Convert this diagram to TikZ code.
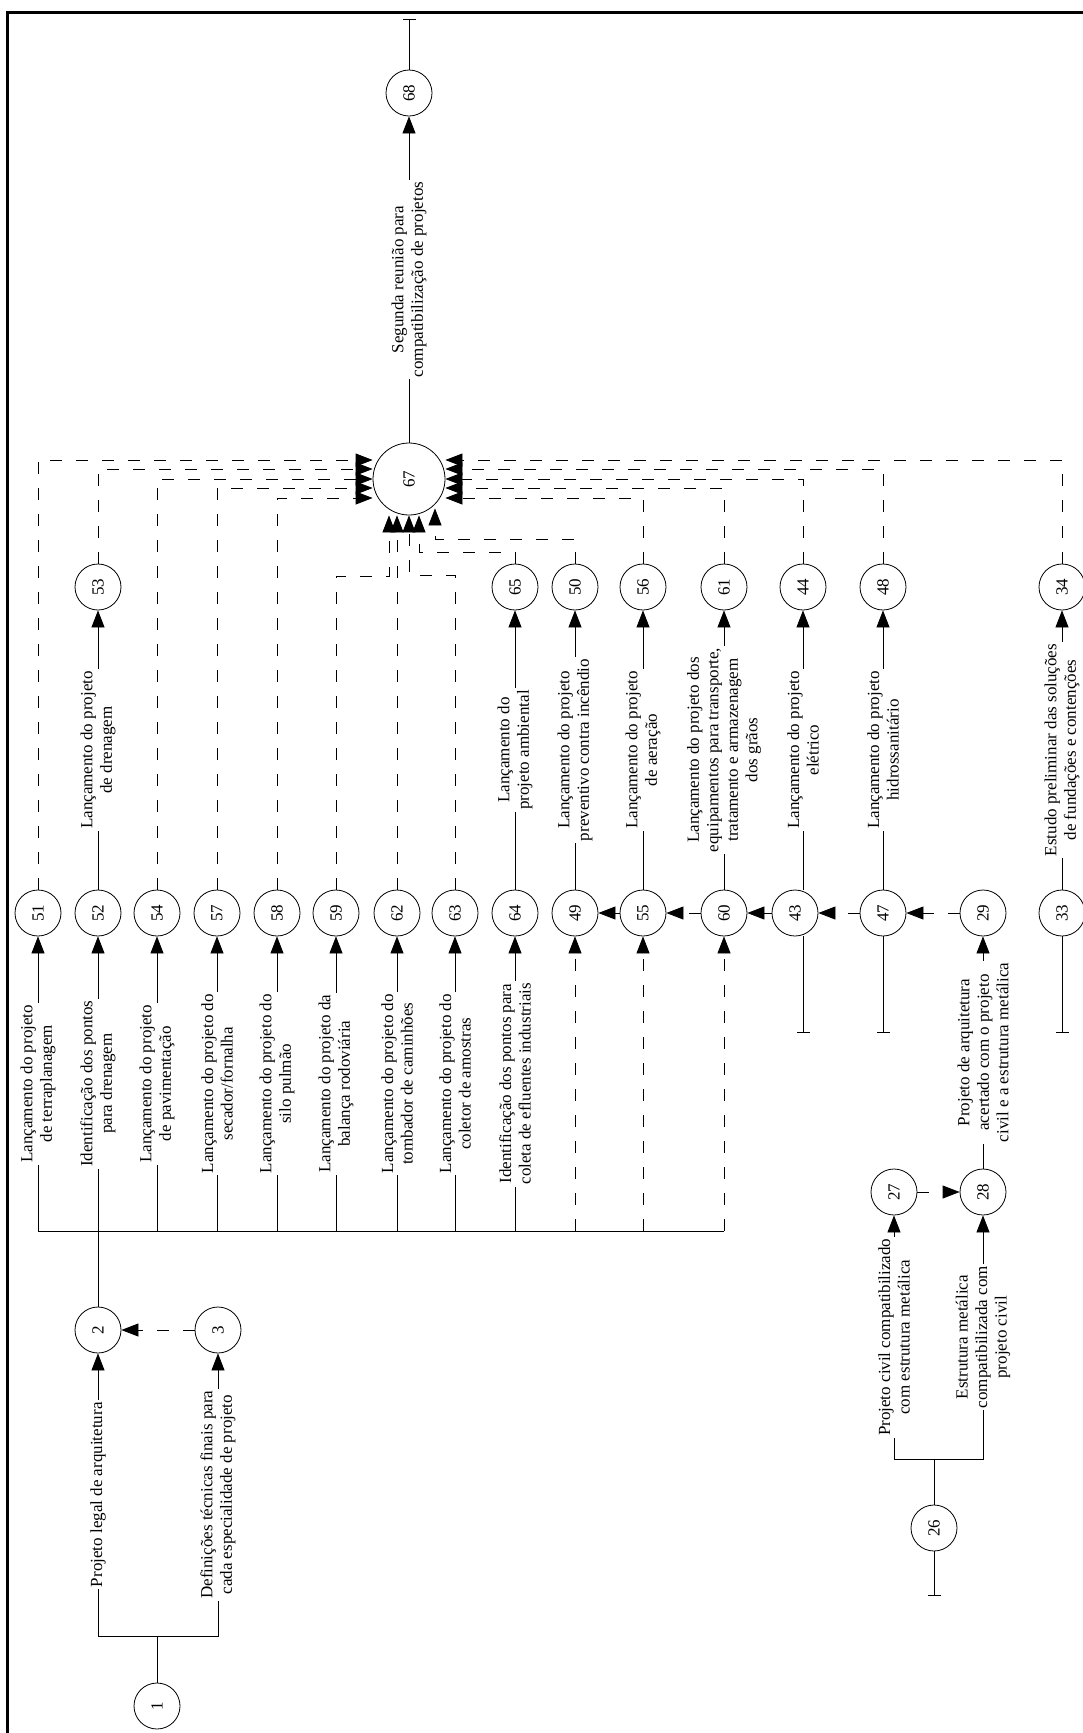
\documentclass[tikz,border=0pt]{standalone}
\usepackage{graphicx}
\usepackage{fontspec}
\setmainfont{Liberation Serif}
\usetikzlibrary{arrows.meta, calc}

\tikzset{
  ev/.style={circle, draw, line width=0.8pt, minimum size=46pt, inner sep=0pt},
  act/.style={line width=0.8pt, -{Triangle[length=17pt, width=13pt]}},
  dum/.style={act, dash pattern=on 12pt off 14pt},
  lbl/.style={midway, fill=white, rotate=90, align=center, inner sep=2pt},
  endbar/.style={line width=0.8pt, -{Bar[width=13pt]}}
}

\begin{document}
\begin{tikzpicture}[x=1pt, y=-1pt, font=\fontsize{17}{19.5}\selectfont]
        \useasboundingbox (0,0) rectangle (1083,1733);
        \clip (0,0) rectangle (1083,1733);
        \draw[line width=3pt] (7,1745) -- (7,12) -- (1095,12);

        \node[ev] (n68) at (409,93) {\rotatebox{90}{68}};
        \node[ev, minimum size=72pt] (n67) at (409,479) {\rotatebox{90}{67}};
        \foreach \n/\x in {51/38, 52/98, 54/157, 57/217, 58/277, 59/336, 62/397, 63/455, 64/515, 49/575, 55/643, 60/724, 43/795, 47/883, 29/983, 33/1062} {
            \node[ev] (n\n) at (\x,913) {\rotatebox{90}{\n}};
        }
        \foreach \n/\x in {53/98, 65/515, 50/575, 56/643, 61/724, 44/803, 48/883, 34/1062} {
            \node[ev] (n\n) at (\x,587) {\rotatebox{90}{\n}};
        }
        \foreach \n/\x/\y in {1/157/1706, 2/98/1330, 3/218/1330, 27/894/1192, 28/983/1192, 26/934/1528} {
            \node[ev] (n\n) at (\x,\y) {\rotatebox{90}{\n}};
        }

        \coordinate (bus) at (98,1231);
        \coordinate (e68) at (409,19);
        \coordinate (e43) at (803,1033);
        \coordinate (e47) at (883,1033);
        \coordinate (e33) at (1062,1033);
        \coordinate (e26) at (934,1596);

        \draw[act] (n67) -- node[lbl]{Segunda reunião para\\compatibilização de projetos} (n68);
        \draw[endbar] (n68) -- (e68);

        \draw[act] (n1) |- (98,1636) -- node[lbl]{Projeto legal de arquitetura} (n2);
        \draw[act] (n1) |- (218,1636) -- node[lbl]{Definições técnicas finais para\\cada especialidade de projeto} (n3);
        \draw[dum] (n3) -- (n2);
        \draw[line width=0.8pt] (n2) -- (bus);
        \draw[line width=0.8pt] (bus -| n51) -- (bus -| n60);

        \foreach \n/\txt in {51/{Lançamento do projeto\\de terraplanagem}, 52/{Identificação dos pontos\\para drenagem}, 54/{Lançamento do projeto\\de pavimentação}, 57/{Lançamento do projeto do\\secador/fornalha}, 58/{Lançamento do projeto do\\silo pulmão}, 59/{Lançamento do projeto da\\balança rodoviária}, 62/{Lançamento do projeto do\\tombador de caminhões}, 63/{Lançamento do projeto do\\coletor de amostras}, 64/{Identificação dos pontos para\\coleta de efluentes industriais}} {
            \draw[act] (bus -| n\n) -- node[lbl]{\txt} (n\n);
        }
        \foreach \n in {49, 55, 60} {
            \draw[dum] (bus -| n\n) -- (n\n);
        }

        \foreach \a/\b/\txt in {52/53/{Lançamento do projeto\\de drenagem}, 64/65/{Lançamento do\\projeto ambiental}, 49/50/{Lançamento do projeto\\preventivo contra incêndio}, 55/56/{Lançamento do projeto\\de aeração}, 60/61/{Lançamento do projeto dos\\equipamentos para transporte,\\tratamento e armazenagem\\dos grãos}, 47/48/{Lançamento do projeto\\hidrossanitário}, 33/34/{Estudo preliminar das soluções\\de fundações e contenções}} {
            \draw[act] (n\a) -- node[lbl]{\txt} (n\b);
        }
        \draw[act] (n43.north -| n44) -- node[lbl]{Lançamento do projeto\\elétrico} (n44);
        \draw[endbar] (n43.south -| n44) -- (e43);
        \draw[endbar] (n47) -- (e47);
        \draw[endbar] (n33) -- (e33);

        \draw[act] (n55) -- (n49);
        \draw[dum] (n60) -- (n55);
        \draw[act] (n43) -- (n60);
        \draw[dum] (n47) -- (n43);
        \draw[dum] (n29) -- (n47);

        \draw[act] (n26) |- (894,1459) -- node[lbl]{Projeto civil compatibilizado\\com estrutura metálica} (n27);
        \draw[act] (n26) |- (983,1459) -- node[lbl]{Estrutura metálica\\compatibilizada com\\projeto civil} (n28);
        \draw[dum] (n27) -- (n28);
        \draw[act] (n28) -- node[lbl]{Projeto de arquitetura\\acertado com o projeto\\civil e a estrutura metálica} (n29);
        \draw[endbar] (n26) -- (e26);

        \foreach \n/\s in {51/19, 53/10, 54/0, 57/-9, 58/-19} {
            \draw[dum] (n\n) |- ([yshift=\s pt]n67.west);
        }
        \foreach \n/\s in {34/19, 48/10, 44/0, 61/-9, 56/-19} {
            \draw[dum] (n\n) |- ([yshift=\s pt]n67.east);
        }
        \draw[dum] (n59) |- (389,576) -- ([xshift=-20pt]n67.south);
        \draw[dum] (n62) -- (n62 |- n67.south);
        \draw[dum] (n63) |- (409,575) -- (n67.south);
        \draw[dum] (n65) |- (419,552) -- ([xshift=10pt]n67.south);
        \draw[dum] (n50) |- (435,539) -- ([xshift=26pt, yshift=7pt]n67.south);
    \end{tikzpicture}
\end{document}
